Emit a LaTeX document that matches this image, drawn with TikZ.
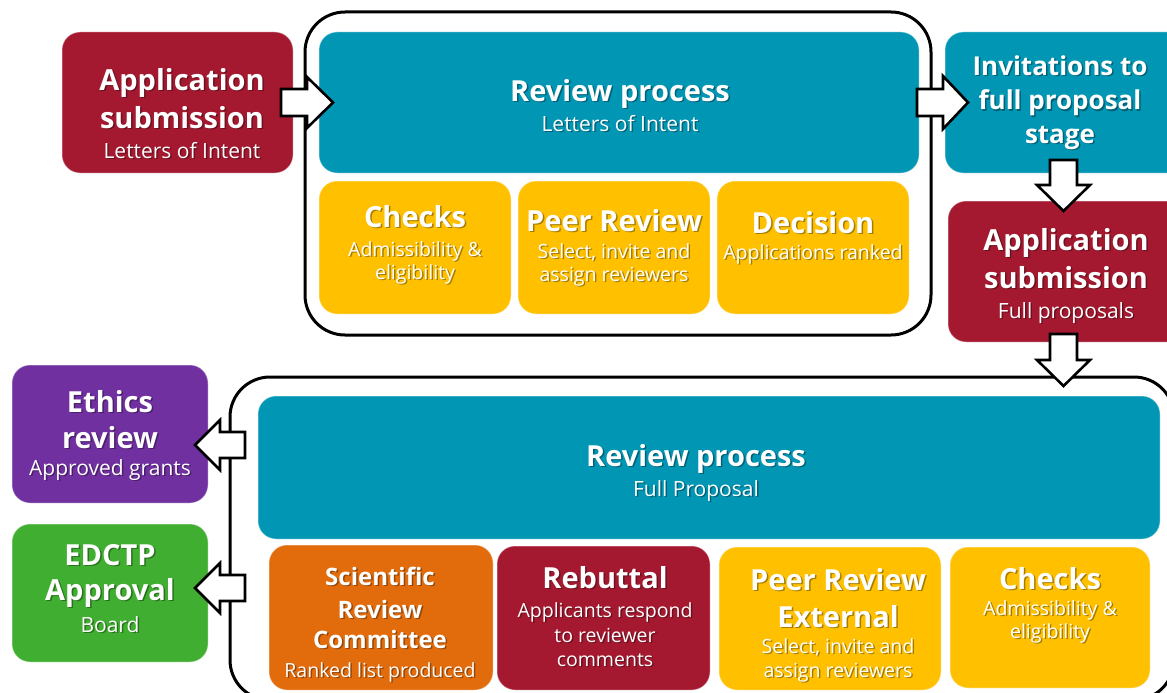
\documentclass[tikz,border=0pt]{standalone}
\usepackage{fontspec}
\setmainfont{Open Sans}
\definecolor{cred}{RGB}{165,25,48}
\definecolor{cteal}{RGB}{0,150,180}
\definecolor{cyel}{RGB}{255,192,0}
\definecolor{corg}{RGB}{226,108,12}
\definecolor{cpur}{RGB}{112,48,160}
\definecolor{cgrn}{RGB}{64,174,48}
\newcommand\bx[7][box]{\node[#1,fill=#3,minimum width={(#6-#4)*1pt},minimum height={(#7-#5)*1pt}] (#2) at ({(#4+#6)/2},{(#5+#7)/2}) {};}
\newcommand\tline[5]{\node[#4,shd] (#1s) at ({#2+1.5},{#3+1.5}) {#5};\node[#4] (#1) at (#2,#3) {#5};}
\tikzset{
  box/.style={rectangle,rounded corners=18pt,inner sep=0pt,draw=white,draw opacity=0.35,line width=1pt},
  outl/.style={rectangle,rounded corners=40pt,inner sep=0pt,draw=black,line width=3pt,fill=white},
  txt/.style={anchor=base,inner sep=0pt,text=white},
  shd/.style={text=black,text opacity=0.35},
  hb/.style={txt,font=\fontsize{29}{34}\selectfont\bfseries},
  hm/.style={txt,font=\fontsize{26}{30}\selectfont\bfseries},
  hc/.style={txt,font=\fontsize{24}{28}\selectfont\bfseries},
  sb/.style={txt,font=\fontsize{21}{25}\selectfont},
  ss/.style={txt,font=\fontsize{19.5}{23}\selectfont},
  barrow/.style={fill=white,draw=black,line width=2.6pt,line join=miter},
}
\begin{document}
\begin{tikzpicture}[x=1pt,y=-1pt]
\clip (0,0) rectangle (1167,693);
\fill[white] (0,0) rectangle (1167,693);
% outlines
\bx[outl]{outtop}{white}{305}{12}{931}{335}
\bx[outl]{outbot}{white}{230}{377}{1174}{700}
% top row
\bx{loi}{cred}{62}{32}{293}{173}
\bx{revtop}{cteal}{319}{32}{919}{173}
\bx{chk1}{cyel}{319}{181}{511}{314}
\bx{peer1}{cyel}{518}{181}{710}{314}
\bx{dec}{cyel}{717}{181}{909}{314}
\bx{inv}{cteal}{945}{32}{1185}{173}
\bx{appf}{cred}{948}{201}{1185}{342}
% bottom
\bx{eth}{cpur}{12}{365}{208}{503}
\bx{edc}{cgrn}{12}{524}{208}{662}
\bx{revbot}{cteal}{258}{396}{1160}{539}
\bx{src}{corg}{269}{545}{493}{690}
\bx{reb}{cred}{497}{546}{710}{690}
\bx{pre}{cyel}{719}{547}{941}{690}
\bx{chk2}{cyel}{950}{547}{1150}{688}
% texts
\tline{loi1}{182}{90}{hb}{Application}
\tline{loi2}{182}{128}{hb}{submission}
\tline{loi3}{182}{158}{sb}{Letters of Intent}
\tline{rt1}{620}{101}{hb}{Review process}
\tline{rt2}{620}{131}{sb}{Letters of Intent}
\tline{c11}{415}{227}{hb}{Checks}
\tline{c12}{415}{256}{ss}{Admissibility \&}
\tline{c13}{415}{279}{ss}{eligibility}
\tline{p11}{614}{231}{hb}{Peer Review}
\tline{p12}{614}{258}{ss}{Select, invite and}
\tline{p13}{614}{281}{ss}{assign reviewers}
\tline{d11}{813}{233}{hb}{Decision}
\tline{d12}{813}{259}{ss}{Applications ranked}
\tline{iv1}{1060}{75}{hm}{Invitations to}
\tline{iv2}{1060}{110}{hm}{full proposal}
\tline{iv3}{1060}{143}{hm}{stage}
\tline{af1}{1066}{250}{hb}{Application}
\tline{af2}{1066}{288}{hb}{submission}
\tline{af3}{1066}{318}{sb}{Full proposals}
\tline{et1}{110}{412}{hb}{Ethics}
\tline{et2}{110}{448}{hb}{review}
\tline{et3}{110}{475}{sb}{Approved grants}
\tline{ed1}{110}{565}{hb}{EDCTP}
\tline{ed2}{110}{600}{hb}{Approval}
\tline{ed3}{110}{632}{sb}{Board}
\tline{rb1}{696}{466}{hb}{Review process}
\tline{rb2}{696}{496}{sb}{Full Proposal}
\tline{sr1}{380}{585}{hc}{Scientific}
\tline{sr2}{380}{618}{hc}{Review}
\tline{sr3}{380}{648}{hc}{Committee}
\tline{sr4}{380}{677}{ss}{Ranked list produced}
\tline{rb1x}{605}{588}{hb}{Rebuttal}
\tline{rb2x}{605}{617}{ss}{Applicants respond}
\tline{rb3x}{605}{642}{ss}{to reviewer}
\tline{rb4x}{605}{666}{ss}{comments}
\tline{pe1}{838}{590}{hb}{Peer Review}
\tline{pe2}{838}{627}{hb}{External}
\tline{pe3}{838}{653}{ss}{Select, invite and}
\tline{pe4}{838}{677}{ss}{assign reviewers}
\tline{c21}{1050}{589}{hb}{Checks}
\tline{c22}{1050}{615}{ss}{Admissibility \&}
\tline{c23}{1050}{638}{ss}{eligibility}
% block arrows
\draw[barrow] (281,89) -- (307,89) -- (307,77) -- (333,102.5) -- (307,128) -- (307,116) -- (281,116) -- cycle;
\draw[barrow] (917,89) -- (943,89) -- (943,76) -- (968,102.5) -- (943,129) -- (943,116) -- (917,116) -- cycle;
\draw[barrow] (1050,160) -- (1050,185) -- (1037,185) -- (1063.5,211) -- (1090,185) -- (1077,185) -- (1077,160) -- cycle;
\draw[barrow] (1050,334) -- (1050,360) -- (1037,360) -- (1063.5,386) -- (1090,360) -- (1077,360) -- (1077,334) -- cycle;
\draw[barrow] (245,432) -- (220,432) -- (220,420) -- (195,445) -- (220,470) -- (220,458) -- (245,458) -- cycle;
\draw[barrow] (245,575) -- (220,575) -- (220,563) -- (195,588) -- (220,613) -- (220,601) -- (245,601) -- cycle;
\end{tikzpicture}
\end{document}
